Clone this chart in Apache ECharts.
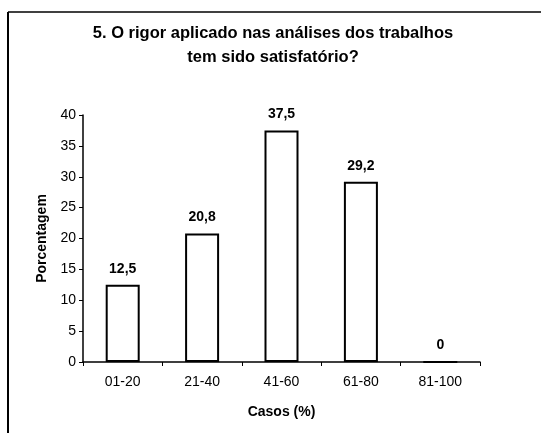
<!DOCTYPE html>
<html><head><meta charset="utf-8">
<script src="https://cdn.jsdelivr.net/npm/echarts@6/dist/echarts.min.js"></script>
<style>html,body{margin:0;padding:0;background:#fff}#c{width:541px;height:433px}</style>
</head><body><div id="c"></div>
<script>
var categories = ['01-20', '21-40', '41-60', '61-80', '81-100'];
var values = [12.5, 20.8, 37.5, 29.2, 0];
var yTicks = [0, 5, 10, 15, 20, 25, 30, 35, 40];
var titleText = '5. O rigor aplicado nas análises dos trabalhos\ntem sido satisfatório?';

var chart = echarts.init(document.getElementById('c'));
var font = 'Liberation Sans, Arial, sans-serif';
chart.setOption({
  animation: false,
  backgroundColor: '#fff',
  title: {
    text: titleText, left: 268, top: 16, textAlign: 'center',
    textStyle: { fontFamily: font, fontSize: 16.5, fontWeight: 'bold', color: '#000', lineHeight: 24 }
  },
  graphic: [
    { type: 'line', shape: { x1: 8, y1: 12, x2: 8, y2: 433 }, style: { stroke: '#000', lineWidth: 2 } },
    { type: 'line', shape: { x1: 8, y1: 12, x2: 541, y2: 12 }, style: { stroke: '#000', lineWidth: 1.5 } }
  ],
  grid: { left: 83, right: 61, top: 115, bottom: 71, containLabel: false },
  xAxis: {
    type: 'category', data: categories,
    name: 'Casos (%)', nameLocation: 'middle', nameGap: 43,
    nameTextStyle: { fontFamily: font, fontSize: 14, fontWeight: 'bold', color: '#000' },
    axisLine: { lineStyle: { color: '#000', width: 1.5 } },
    axisTick: { show: true, inside: false, length: 4, alignWithLabel: false, lineStyle: { color: '#000' } },
    axisLabel: { fontFamily: font, fontSize: 14, color: '#000', margin: 13 }
  },
  yAxis: {
    type: 'value', min: 0, max: 40, interval: 5,
    name: 'Porcentagem', nameLocation: 'middle', nameGap: 34, nameRotate: 90,
    nameTextStyle: { fontFamily: font, fontSize: 14, fontWeight: 'bold', color: '#000' },
    axisLine: { show: true, lineStyle: { color: '#000', width: 1.5 } },
    axisTick: { show: true, length: 4, lineStyle: { color: '#000' } },
    splitLine: { show: false },
    axisLabel: { fontFamily: font, fontSize: 14, color: '#000', margin: 7,
      formatter: function (v) { return yTicks.indexOf(v) >= 0 ? String(v) : ''; } }
  },
  series: [{
    type: 'bar', data: values, barWidth: 34,
    itemStyle: { color: '#fff', borderColor: '#000', borderWidth: 2 },
    label: { show: true, position: 'top', distance: 9, fontFamily: font, fontSize: 14, fontWeight: 'bold', color: '#000',
      formatter: function (p) { return String(p.value).replace('.', ','); } }
  }]
});
</script></body></html>
